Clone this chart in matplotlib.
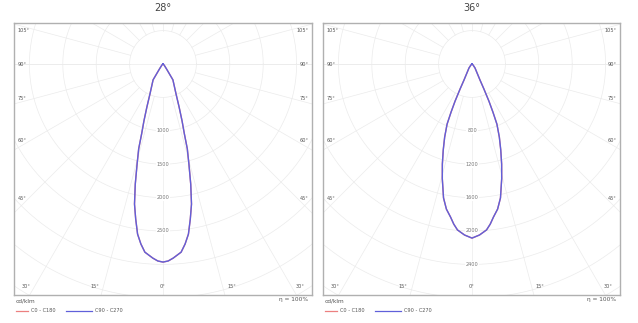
import numpy as np
import matplotlib
matplotlib.use("Agg")
import matplotlib.pyplot as plt

# beam titles and radial grid steps (cd/klm)
titles = ["28°", "36°"]
steps = [500, 400]
ring_labels = [[1000, 1500, 2000, 2500], [800, 1200, 1600, 2000, 2400]]

# C90 - C270 intensity, gamma in degrees from nadir
gamma_28 = [0, 1.5, 3, 5.5, 7, 8.5, 10, 11.5, 13, 14.5, 16, 17, 18.5, 20.5, 23.5, 32, 35, 40, 50, 60, 75, 90]
cd_28 = [2965, 2950, 2910, 2830, 2715, 2575, 2355, 2140, 1845, 1550, 1320, 1095, 900, 690, 490, 280, 100, 40, 15, 5, 2, 0]
gamma_36 = [0, 2.5, 5, 6.5, 8, 10, 12, 14.5, 16.5, 18.5, 20.5, 22.5, 23.5, 24.5, 25.5, 26.5, 37, 45, 60, 90]
cd_36 = [2085, 2050, 1995, 1930, 1850, 1765, 1640, 1420, 1250, 1085, 935, 780, 630, 490, 330, 215, 60, 20, 5, 0]

side_labels = ["105°", "90°", "75°", "60°", "45°"]
bottom_labels = ["30°", "15°", "0°", "15°", "30°"]

W, H = 638, 323
fig = plt.figure(figsize=(W / 100, H / 100), dpi=100)

GRID = "#ebebeb"
BLUE = "#6060da"
RED = "#ec8080"
TXT = "#555555"


def to_xy(g, i):
    g = np.radians(np.concatenate([-np.array(g)[::-1], np.array(g)[1:]]))
    i = np.concatenate([np.array(i)[::-1], np.array(i)[1:]])
    return i * np.sin(g), -i * np.cos(g)


def panel(px_left, px_width, title, step, rings, g, i):
    px_top, px_bot = 23, 295
    ax = fig.add_axes([px_left / W, (H - px_bot) / H, px_width / W, (px_bot - px_top) / H])
    unit = 33.4  # px per ring step
    ox = 149
    ax.set_xlim(-ox / unit * step, (px_width - ox) / unit * step)
    ax.set_ylim(-(px_bot - 64) / unit * step, (64 - px_top) / unit * step)

    # circles and rays
    t = np.linspace(0, 2 * np.pi, 400)
    for k in range(1, 12):
        ax.plot(k * step * np.cos(t), k * step * np.sin(t), color=GRID, lw=0.5, zorder=1)
    for a in range(0, 360, 15):
        r = np.array([step, 15 * step])
        ax.plot(r * np.sin(np.radians(a)), -r * np.cos(np.radians(a)), color=GRID, lw=0.5, zorder=1)
    ax.axhline(0, color=GRID, lw=0.5, zorder=1)

    x, y = to_xy(g, i)
    ax.plot(x, y, color=RED, lw=1.0, zorder=2)
    ax.plot(x, y, color=BLUE, lw=1.0, zorder=3)

    for v in rings:
        ax.text(0, -v, str(v), fontsize=3.6, color="#777777", ha="center", va="center", zorder=4,
                bbox=dict(facecolor="white", edgecolor="none", pad=0.6))

    for lab, py in zip(side_labels, [30, 64, 98, 141, 198]):
        fy = (px_bot - py) / (px_bot - px_top)
        ax.text(0.012, fy, lab, transform=ax.transAxes, fontsize=3.6, color=TXT, va="center", ha="left")
        ax.text(0.988, fy, lab, transform=ax.transAxes, fontsize=3.6, color=TXT, va="center", ha="right")
    for lab, fx in zip(bottom_labels, [0.04, 0.27, 0.5, 0.73, 0.96]):
        ax.text(fx, 0.03, lab, transform=ax.transAxes, fontsize=3.6, color=TXT, va="center", ha="center")

    ax.set_xticks([])
    ax.set_yticks([])
    for s in ax.spines.values():
        s.set_color("#b0b0b0")
        s.set_linewidth(1.0)

    cx = (px_left + ox) / W
    fig.text(cx, 1 - 8 / H, title, fontsize=7, color="#444444", ha="center", va="center")
    fig.text((px_left + 2) / W, 1 - 301 / H, "cd/klm", fontsize=4.2, color=TXT, va="center")
    fig.text((px_left + px_width - 4) / W, 1 - 300 / H, "η = 100%", fontsize=4.2, color=TXT,
             ha="right", va="center")
    ly = 1 - 311 / H
    fig.add_artist(plt.Line2D([(px_left + 2) / W, (px_left + 14) / W], [ly, ly], color=RED, lw=0.9))
    fig.text((px_left + 17) / W, ly, "C0 - C180", fontsize=3.6, color=TXT, va="center")
    fig.add_artist(plt.Line2D([(px_left + 52) / W, (px_left + 78) / W], [ly, ly], color=BLUE, lw=0.9))
    fig.text((px_left + 81) / W, ly, "C90 - C270", fontsize=3.6, color=TXT, va="center")


panel(14, 298, titles[0], steps[0], ring_labels[0], gamma_28, cd_28)
panel(323, 297, titles[1], steps[1], ring_labels[1], gamma_36, cd_36)

fig.savefig("out.png", dpi=100, facecolor="white")
